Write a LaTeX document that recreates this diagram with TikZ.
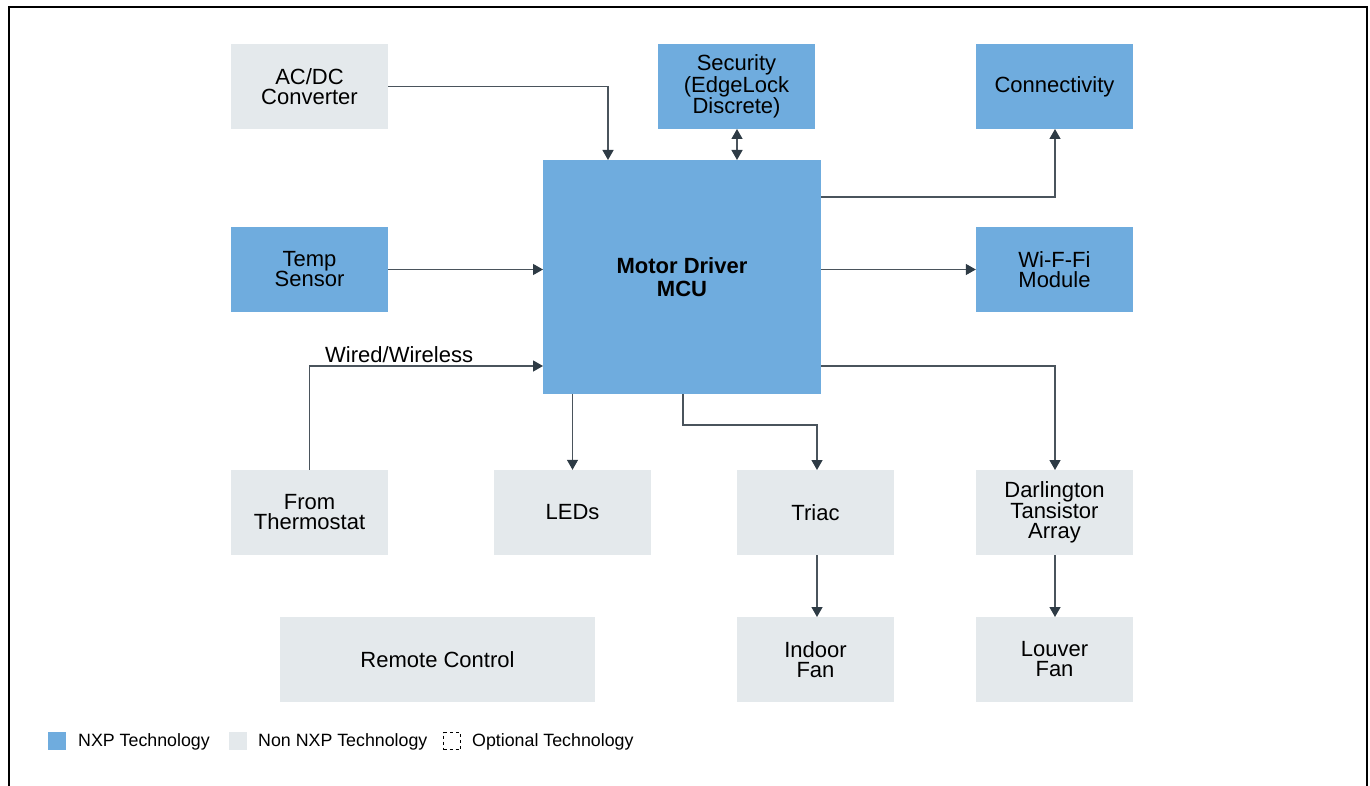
\documentclass[tikz,border=0pt]{standalone}
\usepackage{fontspec}
\setmainfont{Liberation Sans}
\usetikzlibrary{arrows.meta}
\definecolor{nxp}{HTML}{6FACDE}
\definecolor{non}{HTML}{E4E9EC}
\definecolor{ln}{HTML}{4A545C}
\definecolor{tip}{HTML}{2E3B45}
\begin{document}
\begin{tikzpicture}[x=1pt,y=-1pt,
  box/.style={minimum width=157pt,minimum height=85pt,inner sep=0pt,align=center,
    font=\fontsize{22}{20}\selectfont,text=black,execute at begin node={\vspace*{4pt}}},
  nxpbox/.style={box,fill=nxp},
  nonbox/.style={box,fill=non},
  conn/.style={draw=ln,line width=1.3pt,-{Triangle[width=11pt,length=10pt,color=tip]}},
  bconn/.style={draw=ln,line width=1.3pt,{Triangle[width=11pt,length=10pt,color=tip]}-{Triangle[width=11pt,length=10pt,color=tip]}},
  legtext/.style={anchor=west,inner sep=0pt,font=\fontsize{17.8}{20}\selectfont}]
\useasboundingbox (0,0) rectangle (1370,786);
\draw[line width=2.2pt,black] (9,786) -- (9,7) -- (1367,7) -- (1367,786);
% nodes
\node[nonbox] (acdc) at (309.5,86.5) {AC/DC\\Converter};
\node[nxpbox] (sec) at (736.5,86.5) {Security\\(EdgeLock\\Discrete)};
\node[nxpbox] (conn) at (1054.5,86.5) {Connectivity};
\node[nxpbox,minimum width=278pt,minimum height=234pt,font=\fontsize{22}{23}\selectfont\bfseries] (mcu) at (682,277) {Motor Driver\\MCU};
\node[nxpbox] (temp) at (309.5,269.5) {Temp\\Sensor};
\node[nxpbox] (wifi) at (1054.5,269.5) {Wi-F-Fi\\Module};
\node[nonbox] (thermo) at (309.5,512.5) {From\\Thermostat};
\node[nonbox] (leds) at (572.5,512.5) {LEDs};
\node[nonbox] (triac) at (815.5,512.5) {Triac};
\node[nonbox] (darl) at (1054.5,512.5) {Darlington\\Tansistor\\Array};
\node[nonbox,minimum width=315pt] (remote) at (437.5,659.5) {Remote Control};
\node[nonbox] (indoor) at (815.5,659.5) {Indoor\\Fan};
\node[nonbox] (louver) at (1054.5,659.5) {Louver\\Fan};
% connectors
\draw[conn] (acdc.east) -- (608,86.5) -- (608,160);
\draw[bconn] (737,129) -- (737,160);
\draw[conn] (821,197) -- (1055,197) -- (1055,129);
\draw[conn] (temp.east) -- (543,269.5);
\draw[conn] (821,269.5) -- (wifi.west);
\draw[conn] (thermo.north) -- (309.5,366) -- (543,366);
\node[anchor=south west,inner sep=0pt,font=\fontsize{22}{20}\selectfont] (wl) at (325,363) {Wired/Wireless};
\draw[conn] (572.5,394) -- (leds.north);
\draw[conn] (683,394) -- (683,425) -- (817,425) -- (817,470);
\draw[conn] (821,366) -- (1055,366) -- (1055,470);
\draw[conn] (817,555) -- (817,617);
\draw[conn] (1055,555) -- (1055,617);
% legend
\node[fill=nxp,minimum size=18pt,inner sep=0pt] (l1) at (57,741) {};
\node[legtext] (t1) at (78,742) {NXP Technology};
\node[fill=non,minimum size=18pt,inner sep=0pt] (l2) at (238,741) {};
\node[legtext] (t2) at (258,742) {Non NXP Technology};
\node[draw=black,dash pattern=on 3pt off 3pt,line width=0.8pt,minimum size=17pt,inner sep=0pt] (l3) at (452,741) {};
\node[legtext] (t3) at (472,742) {Optional Technology};
\end{tikzpicture}
\end{document}
